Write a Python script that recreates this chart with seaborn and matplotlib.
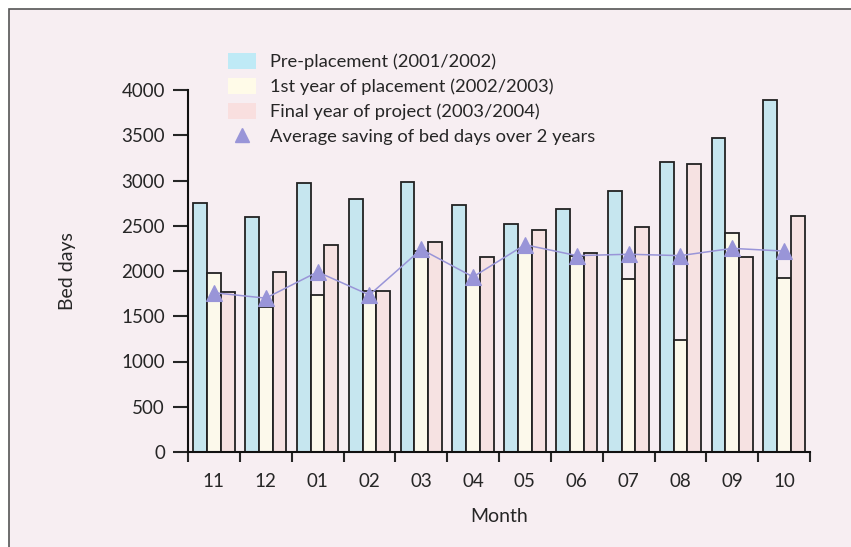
import pandas as pd
import seaborn as sns
import numpy as np
from matplotlib import pyplot as plt
from matplotlib.patches import Patch, Rectangle
from matplotlib.lines import Line2D

months = ["11", "12", "01", "02", "03", "04", "05", "06", "07", "08", "09", "10"]
pre_placement = [2750, 2600, 2975, 2800, 2985, 2730, 2515, 2680, 2885, 3200, 3475, 3890]
first_year = [1975, 1600, 1740, 1775, 2220, 1845, 2225, 2165, 1910, 1235, 2420, 1920]
final_year = [1770, 1990, 2285, 1775, 2315, 2155, 2455, 2195, 2490, 3180, 2160, 2605]
avg_saving = [1760, 1700, 1990, 1735, 2240, 1935, 2290, 2170, 2185, 2170, 2250, 2220]

series = [
    "Pre-placement (2001/2002)",
    "1st year of placement (2002/2003)",
    "Final year of project (2003/2004)",
]
avg_label = "Average saving of bed days over 2 years"
bar_colors = ["#bfeaf6", "#fffbe8", "#f9dfdf"]
tri_color = "#9995d8"
bg = "#f7eef2"

df = pd.DataFrame({
    "month": months,
    series[0]: pre_placement,
    series[1]: first_year,
    series[2]: final_year,
})
long_df = df.melt(id_vars="month", var_name="period", value_name="bed_days")
avg_df = pd.DataFrame({"month": months, "avg": avg_saving})

sns.set_style("ticks")
plt.rcParams["font.family"] = ["Lato", "DejaVu Sans"]

fig = plt.figure(figsize=(8.51, 5.47), dpi=100, facecolor="white")
fig.patches.append(Rectangle(
    (9 / 851, -0.02), 1.0, 1 - 9 / 547 + 0.02,
    transform=fig.transFigure, facecolor=bg, edgecolor="#555555",
    linewidth=1.2, zorder=-10,
))
ax = fig.add_axes([188 / 851, 1 - 452 / 547, 622 / 851, 362 / 547])
ax.set_facecolor("none")

sns.barplot(
    long_df,
    x="month",
    y="bed_days",
    hue="period",
    order=months,
    hue_order=series,
    palette=bar_colors,
    width=0.8,
    edgecolor="#222222",
    linewidth=1.3,
    legend=False,
    ax=ax,
)

sns.pointplot(
    avg_df,
    x="month",
    y="avg",
    order=months,
    color=tri_color,
    markers="^",
    markersize=11,
    linewidth=1.1,
    errorbar=None,
    ax=ax,
)

ax.set_xlim(-0.5, 11.5)
ax.set_ylim(0, 4000)
ax.set_yticks(np.arange(0, 4001, 500))
ax.set_xticks(np.arange(-0.5, 12, 1), minor=True)
ax.tick_params(axis="x", which="major", length=0, pad=15, labelsize=13.5)
ax.tick_params(axis="x", which="minor", length=7, width=1.5, direction="out")
ax.tick_params(axis="y", length=10.5, width=1.5, pad=6, labelsize=13.5)
for s in ["top", "right"]:
    ax.spines[s].set_visible(False)
for s in ["left", "bottom"]:
    ax.spines[s].set_linewidth(1.5)
    ax.spines[s].set_color("#111111")

ax.set_xlabel("Month", fontsize=14)
ax.set_ylabel("Bed days", fontsize=14)
ax.xaxis.set_label_coords(0.5, -0.155)
ax.yaxis.set_label_coords(-0.18, 0.5)

handles = [Patch(facecolor=c, edgecolor="none") for c in bar_colors]
handles.append(Line2D([], [], color=tri_color, marker="^", linestyle="none", markersize=10))
fig.legend(
    handles,
    series + [avg_label],
    loc="upper left",
    bbox_to_anchor=(228 / 851, 1 - 53 / 547),
    frameon=False,
    fontsize=13.2,
    handlelength=1.5,
    handleheight=1.0,
    handletextpad=0.8,
    labelspacing=0.4,
    borderpad=0,
    borderaxespad=0,
)

fig.savefig("out.png", dpi=100, facecolor=fig.get_facecolor())
